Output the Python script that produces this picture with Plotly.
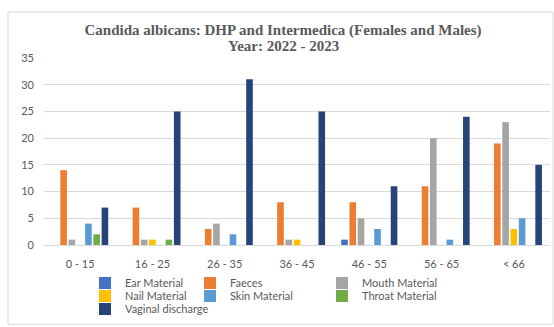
import plotly.graph_objects as go

categories = ["0 - 15", "16 - 25", "26 - 35", "36 - 45", "46 - 55", "56 - 65", "< 66"]
series_names = ["Ear Material", "Faeces", "Mouth Material", "Nail Material",
                "Skin Material", "Throat Material", "Vaginal discharge"]
ear = [0, 0, 0, 0, 1, 0, 0]
faeces = [14, 7, 3, 8, 8, 11, 19]
mouth = [1, 1, 4, 1, 5, 20, 23]
nail = [0, 1, 0, 1, 0, 0, 3]
skin = [4, 0, 2, 0, 3, 1, 5]
throat = [2, 1, 0, 0, 0, 0, 0]
vaginal = [7, 25, 31, 25, 11, 24, 15]
y_ticks = [0, 5, 10, 15, 20, 25, 30, 35]
title_line1 = "Candida albicans: DHP and Intermedica (Females and Males)"
title_line2 = "Year: 2022 - 2023"

values = [ear, faeces, mouth, nail, skin, throat, vaginal]
colors = ["#4472C4", "#ED7D31", "#A5A5A5", "#FFC000", "#5B9BD5", "#70AD47", "#264478"]

W, H = 554, 327
# legend positions (text start x, row centre y) in pixels
leg_pos = [(125, 283), (230, 283), (362, 283),
           (125, 296), (230, 296), (362, 296),
           (125, 309)]

fig = go.Figure()
layout_legends = {}
for i, (name, vals, col) in enumerate(zip(series_names, values, colors)):
    lname = "legend" if i == 0 else f"legend{i+1}"
    fig.add_trace(go.Bar(x=categories, y=vals, name=name, marker_color=col,
                         marker_line_width=0, legend=lname))
    tx, ty = leg_pos[i]
    layout_legends[lname] = dict(
        x=(tx - 40) / W, y=1 - ty / H, xref="container", yref="container",
        xanchor="left", yanchor="middle", orientation="h",
        bgcolor="rgba(0,0,0,0)", borderwidth=0,
        font=dict(family="Lato", size=11, color="#595959"),
        itemclick=False,
    )

title_font = dict(family="Liberation Serif", size=15, color="#595959", weight="bold")

fig.update_layout(
    width=W, height=H,
    margin=dict(l=44, r=4, t=58, b=82, autoexpand=False),
    paper_bgcolor="white", plot_bgcolor="white",
    barmode="group", bargap=0.2, bargroupgap=0.2,
    title=dict(text=title_line1,
               x=283 / W, xanchor="center", xref="container",
               y=1 - 30 / H, yanchor="middle", yref="container",
               font=title_font, automargin=False),
    annotations=[dict(text=title_line2, xref="paper", yref="paper",
                      x=(283 - 44) / 506, y=(245.5 - 46) / 187.5,
                      xanchor="center", yanchor="middle", showarrow=False,
                      font=title_font)],
    xaxis=dict(showgrid=False, showline=True, linecolor="#D9D9D9", linewidth=1,
               ticks="", tickfont=dict(family="Lato", size=11, color="#595959"),
               ticklabelstandoff=9, automargin=False),
    yaxis=dict(range=[0, 35], tickvals=y_ticks, showgrid=True, gridcolor="#D9D9D9",
               gridwidth=1, zeroline=False, showline=False, ticks="",
               tickfont=dict(family="Lato", size=11, color="#595959"),
               ticklabelstandoff=9, automargin=False),
    showlegend=True,
    shapes=[dict(type="rect", xref="paper", yref="paper",
                 x0=(8 - 44) / 506, x1=(553 - 44) / 506,
                 y0=(245.5 - 325) / 187.5, y1=(245.5 - 12) / 187.5,
                 line=dict(color="#D9D9D9", width=1), fillcolor="rgba(0,0,0,0)", layer="below")],
    **layout_legends,
)

fig.write_html("out.html")
